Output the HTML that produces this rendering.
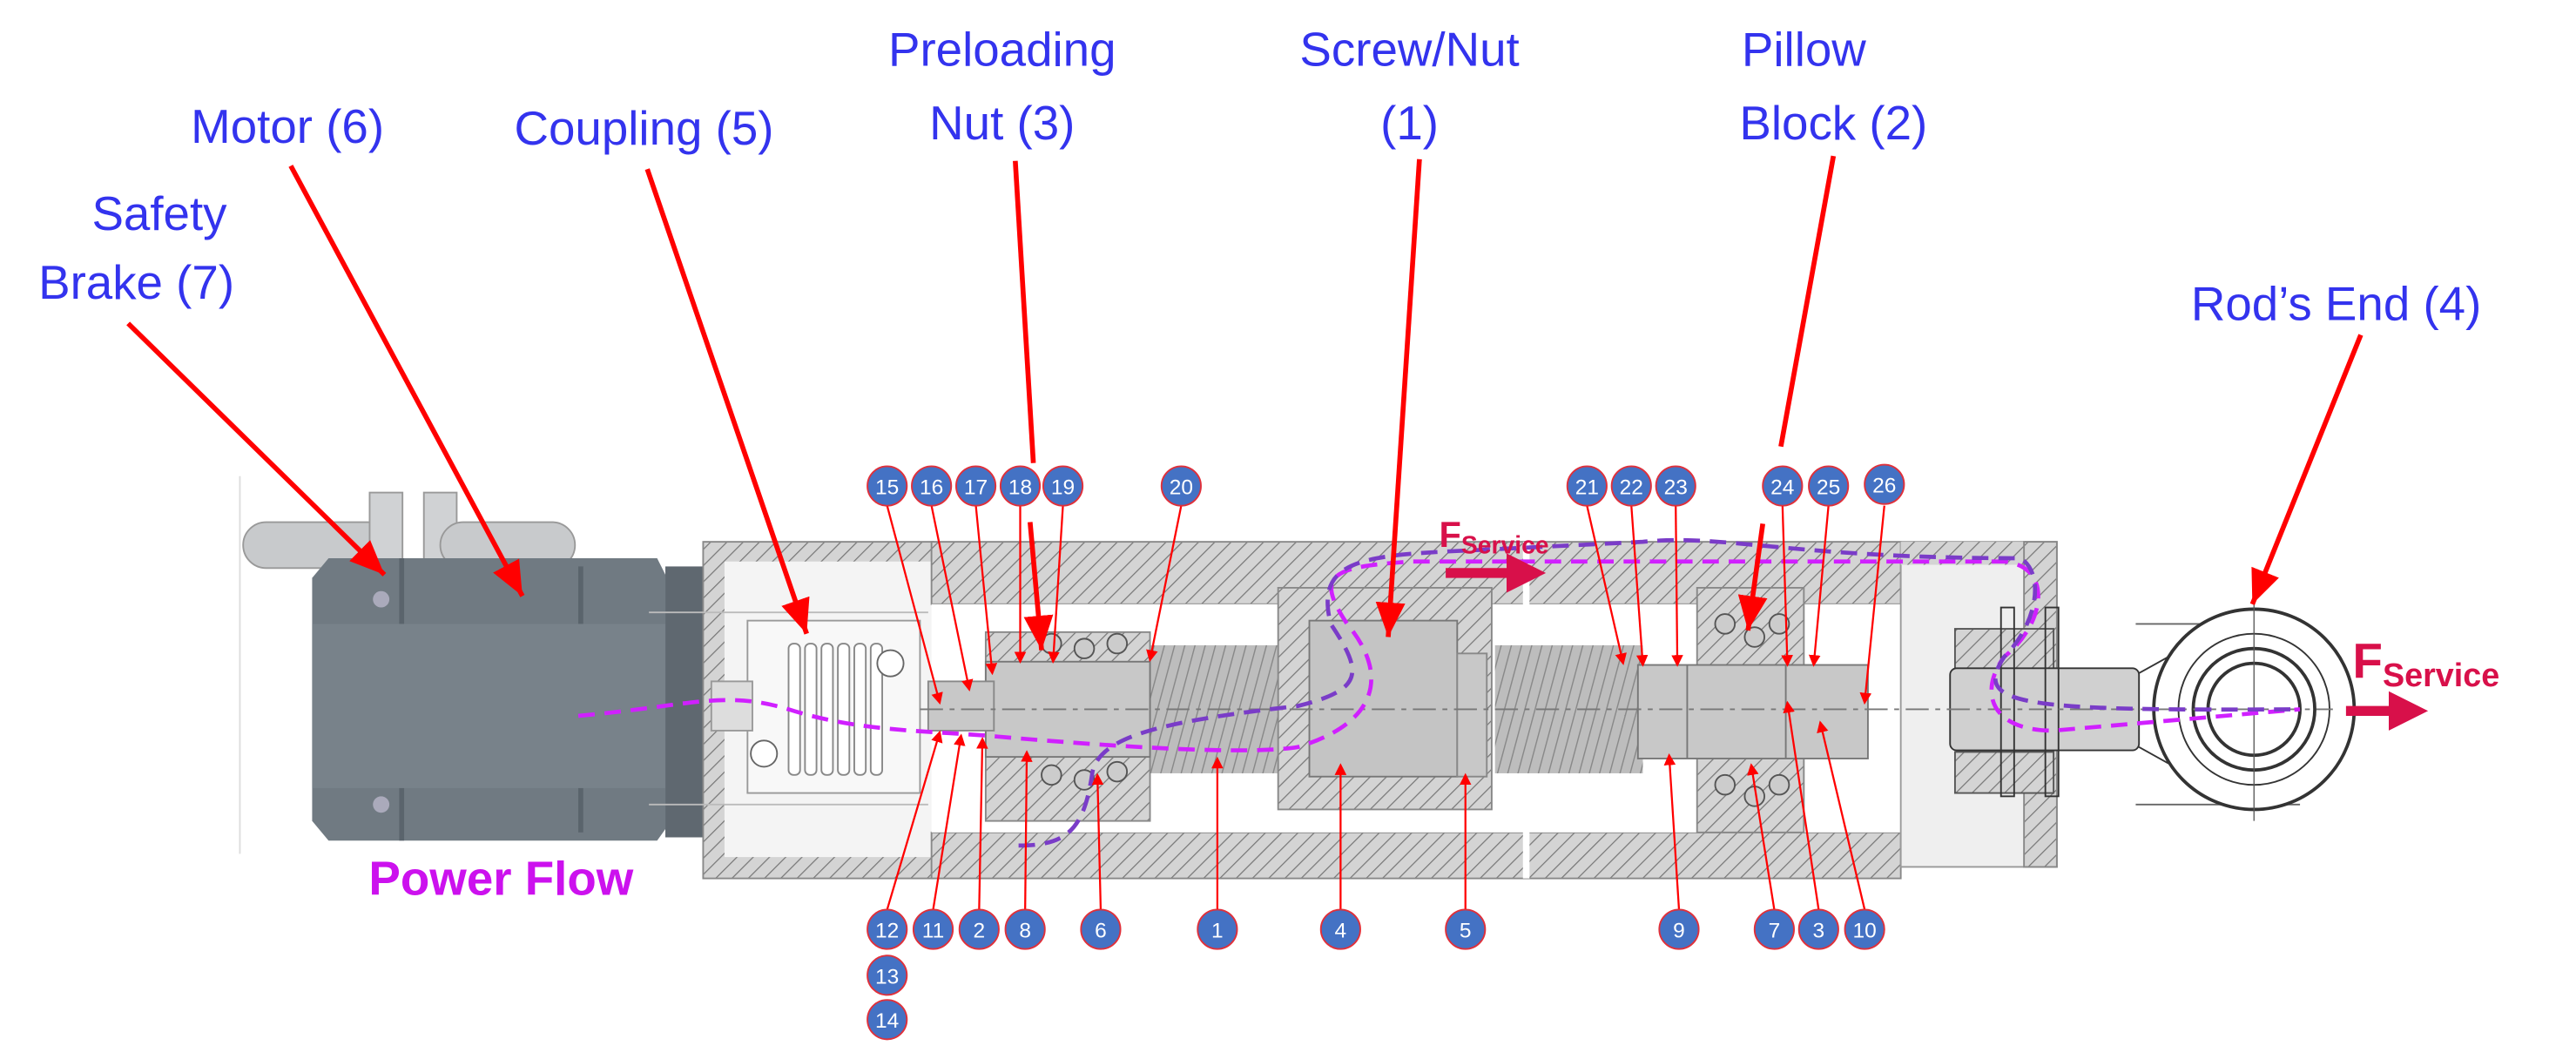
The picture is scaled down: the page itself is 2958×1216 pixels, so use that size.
<!DOCTYPE html>
<html><head><meta charset="utf-8"><style>
html,body{margin:0;padding:0;background:#fff;}
svg{display:block;}
.lbl{font-family:"Liberation Sans",sans-serif;font-size:29px;fill:#3333ee;}
.n{font-family:"Liberation Sans",sans-serif;font-size:13px;fill:#fff;text-anchor:middle;}
</style></head><body>
<svg width="2958" height="1216" viewBox="0 0 1568 645" preserveAspectRatio="none" xmlns="http://www.w3.org/2000/svg">
<defs>
<pattern id="h" width="7" height="7" patternUnits="userSpaceOnUse" patternTransform="rotate(45)">
<rect width="7" height="7" fill="#d4d4d4"/><line x1="0" y1="0" x2="0" y2="7" stroke="#777" stroke-width="1.3"/></pattern>
<pattern id="th" width="6" height="6" patternUnits="userSpaceOnUse" patternTransform="rotate(15)">
<rect width="6" height="6" fill="#bdbdbd"/><line x1="0" y1="0" x2="0" y2="6" stroke="#888" stroke-width="1.5"/></pattern>
<marker id="a" markerWidth="6" markerHeight="6" refX="5" refY="3" orient="auto" markerUnits="strokeWidth"><path d="M0,0 L6,3 L0,6 z" fill="#f00"/></marker>
<marker id="s" markerWidth="8" markerHeight="8" refX="7" refY="4" orient="auto" markerUnits="strokeWidth"><path d="M0,1 L7,4 L0,7 z" fill="#f00"/></marker>
<marker id="f" markerWidth="4" markerHeight="4" refX="3" refY="2" orient="auto" markerUnits="strokeWidth"><path d="M0,0 L4,2 L0,4 z" fill="#d8104a"/></marker>
</defs>

<!-- motor -->
<line x1="146" y1="290" x2="146" y2="520" stroke="#ddd"/>
<rect x="148" y="318" width="90" height="28" rx="14" fill="#c8cacc" stroke="#999"/>
<rect x="225" y="300" width="20" height="45" fill="#d0d2d4" stroke="#999"/>
<rect x="258" y="300" width="20" height="45" fill="#d0d2d4" stroke="#999"/>
<rect x="268" y="318" width="82" height="28" rx="14" fill="#c8cacc" stroke="#999"/>
<path d="M190,352 L200,340 L400,340 L405,350 L405,505 L400,512 L200,512 L190,500 Z" fill="#707a82"/>
<rect x="243" y="340" width="3" height="172" fill="#5a646c"/>
<rect x="352" y="345" width="3" height="162" fill="#5a646c"/>
<rect x="405" y="345" width="25" height="165" fill="#5f6870"/>
<rect x="190" y="380" width="215" height="100" fill="#78828a"/>
<circle cx="232" cy="365" r="5" fill="#aab"/><circle cx="232" cy="490" r="5" fill="#aab"/>

<!-- left cap -->
<rect x="428" y="330" width="140" height="205" fill="url(#h)" stroke="#888"/>
<rect x="441" y="342" width="127" height="180" fill="#f4f4f4"/>
<line x1="395" y1="373" x2="565" y2="373" stroke="#bbb"/><line x1="395" y1="490" x2="565" y2="490" stroke="#bbb"/>
<!-- coupling -->
<rect x="455" y="378" width="105" height="105" fill="#f8f8f8" stroke="#999"/>
<g stroke="#888" fill="#fff">
<rect x="480" y="392" width="7" height="80" rx="3"/><rect x="490" y="392" width="7" height="80" rx="3"/><rect x="500" y="392" width="7" height="80" rx="3"/><rect x="510" y="392" width="7" height="80" rx="3"/><rect x="520" y="392" width="7" height="80" rx="3"/><rect x="530" y="392" width="7" height="80" rx="3"/>
</g>
<circle cx="465" cy="459" r="8" fill="#fff" stroke="#666"/><circle cx="542" cy="404" r="8" fill="#fff" stroke="#666"/>
<rect x="433" y="415" width="25" height="30" fill="#ddd" stroke="#999"/>

<!-- main tube -->
<rect x="567" y="330" width="590" height="38" fill="url(#h)" stroke="#888"/>
<rect x="567" y="507" width="590" height="28" fill="url(#h)" stroke="#888"/>
<rect x="567" y="368" width="590" height="139" fill="#fff"/>
<rect x="927" y="330" width="4" height="205" fill="#fff"/>
<!-- screw -->
<rect x="700" y="393" width="95" height="78" fill="url(#th)"/>
<rect x="910" y="393" width="90" height="78" fill="url(#th)"/>
<!-- nut -->
<rect x="778" y="358" width="130" height="135" fill="url(#h)" stroke="#888"/>
<rect x="797" y="378" width="90" height="95" fill="#c4c4c4" stroke="#777"/>
<rect x="887" y="398" width="18" height="75" fill="#c8c8c8" stroke="#888"/>
<!-- left bearing -->
<rect x="600" y="385" width="100" height="115" fill="url(#h)" stroke="#888"/>
<rect x="600" y="403" width="100" height="58" fill="#c8c8c8" stroke="#777"/>
<circle cx="640" cy="392" r="6" fill="#ccc" stroke="#555"/><circle cx="660" cy="395" r="6" fill="#ccc" stroke="#555"/><circle cx="680" cy="392" r="6" fill="#ccc" stroke="#555"/>
<circle cx="640" cy="472" r="6" fill="#ccc" stroke="#555"/><circle cx="660" cy="475" r="6" fill="#ccc" stroke="#555"/><circle cx="680" cy="470" r="6" fill="#ccc" stroke="#555"/>
<rect x="565" y="415" width="40" height="30" fill="#c8c8c8" stroke="#888"/>
<!-- right bearing -->
<rect x="1033" y="358" width="65" height="149" fill="url(#h)" stroke="#888"/>
<rect x="997" y="405" width="140" height="57" fill="#c8c8c8" stroke="#777"/>
<circle cx="1050" cy="380" r="6" fill="#ccc" stroke="#555"/><circle cx="1068" cy="388" r="6" fill="#ccc" stroke="#555"/><circle cx="1083" cy="380" r="6" fill="#ccc" stroke="#555"/>
<circle cx="1050" cy="478" r="6" fill="#ccc" stroke="#555"/><circle cx="1068" cy="485" r="6" fill="#ccc" stroke="#555"/><circle cx="1083" cy="478" r="6" fill="#ccc" stroke="#555"/>
<line x1="1027" y1="405" x2="1027" y2="462" stroke="#777"/><line x1="1087" y1="405" x2="1087" y2="462" stroke="#777"/>
<!-- right cap -->
<rect x="1157" y="330" width="95" height="198" fill="#efefef" stroke="#999"/>
<rect x="1157" y="330" width="95" height="14" fill="url(#h)"/>
<rect x="1232" y="330" width="20" height="198" fill="url(#h)" stroke="#888"/>
<rect x="1190" y="383" width="60" height="25" fill="url(#h)" stroke="#555"/>
<rect x="1190" y="458" width="60" height="25" fill="url(#h)" stroke="#555"/>
<rect x="1187" y="407" width="115" height="50" rx="4" fill="#d0d0d0" stroke="#333"/>
<rect x="1218" y="370" width="8" height="115" fill="none" stroke="#333"/><rect x="1245" y="370" width="8" height="115" fill="none" stroke="#333"/>
<!-- rod end eye -->
<line x1="1300" y1="380" x2="1400" y2="380" stroke="#666"/><line x1="1300" y1="490" x2="1400" y2="490" stroke="#666"/>
<circle cx="1372" cy="432" r="61" fill="#fff" stroke="#333" stroke-width="2"/>
<circle cx="1372" cy="432" r="46" fill="none" stroke="#333"/><circle cx="1372" cy="432" r="37" fill="none" stroke="#333" stroke-width="2"/><circle cx="1372" cy="432" r="28" fill="none" stroke="#333" stroke-width="2"/>
<line x1="1372" y1="365" x2="1372" y2="500" stroke="#555" stroke-width="0.7"/>
<path d="M1302,410 L1320,400 M1302,455 L1320,465" stroke="#333" fill="none"/>
<!-- center line -->
<line x1="560" y1="432" x2="1420" y2="432" stroke="#777" stroke-dasharray="14,4,3,4"/>

<!-- power flow -->
<g fill="none" stroke-width="2.5" stroke-dasharray="10,6">
<path d="M352,436 C420,430 440,420 480,432 C520,445 560,445 600,448 C680,455 760,460 790,455 C840,440 845,410 820,380 C800,350 810,345 860,342 L1220,342 C1250,345 1245,380 1220,400 C1205,420 1210,445 1250,445 L1400,432" stroke="#d020ff"/>
<path d="M620,515 C650,515 660,505 665,470 C670,450 700,440 790,430 C830,420 830,410 810,380 C800,340 830,338 900,335 L1000,330 C1050,325 1090,340 1230,340 C1245,350 1240,380 1220,400 C1200,430 1230,433 1400,432" stroke="#7a3cc8"/>
</g>

<!-- F service arrows -->
<line x1="880" y1="349" x2="935" y2="349" stroke="#d8104a" stroke-width="6" marker-end="url(#f)"/>
<line x1="1428" y1="433" x2="1472" y2="433" stroke="#d8104a" stroke-width="6" marker-end="url(#f)"/>
<text x="876" y="333" font-family="Liberation Sans,sans-serif" font-weight="bold" font-size="22" fill="#d8104a">F<tspan font-size="15" dy="4">Service</tspan></text>
<text x="1432" y="413" font-family="Liberation Sans,sans-serif" font-weight="bold" font-size="30" fill="#d8104a">F<tspan font-size="20" dy="5">Service</tspan></text>

<!-- labels -->
<text class="lbl" x="97" y="140" text-anchor="middle">Safety</text>
<text class="lbl" x="83" y="182" text-anchor="middle">Brake (7)</text>
<text class="lbl" x="175" y="87" text-anchor="middle">Motor (6)</text>
<text class="lbl" x="392" y="88" text-anchor="middle">Coupling (5)</text>
<text class="lbl" x="610" y="40" text-anchor="middle">Preloading</text>
<text class="lbl" x="610" y="85" text-anchor="middle">Nut (3)</text>
<text class="lbl" x="858" y="40" text-anchor="middle">Screw/Nut</text>
<text class="lbl" x="858" y="85" text-anchor="middle">(1)</text>
<text class="lbl" x="1098" y="40" text-anchor="middle">Pillow</text>
<text class="lbl" x="1116" y="85" text-anchor="middle">Block (2)</text>
<text class="lbl" x="1422" y="195" text-anchor="middle">Rod’s End (4)</text>
<text x="305" y="545" text-anchor="middle" font-family="Liberation Sans,sans-serif" font-weight="bold" font-size="29" fill="#cc11ee">Power Flow</text>

<!-- big red arrows -->
<g stroke="#f00" stroke-width="3" fill="none">
<line x1="78" y1="197" x2="234" y2="350" marker-end="url(#s)"/>
<line x1="177" y1="101" x2="318" y2="363" marker-end="url(#s)"/>
<line x1="394" y1="103" x2="491" y2="386" marker-end="url(#s)"/>
<line x1="618" y1="98" x2="629" y2="282"/>
<line x1="627" y1="318" x2="634" y2="396" marker-end="url(#s)"/>
<line x1="864" y1="97" x2="845" y2="388" marker-end="url(#s)"/>
<line x1="1116" y1="95" x2="1084" y2="272"/>
<line x1="1073" y1="319" x2="1064" y2="384" marker-end="url(#s)"/>
<line x1="1437" y1="204" x2="1371" y2="368" marker-end="url(#s)"/>
</g>

<!-- thin leaders -->
<g stroke="#f00" stroke-width="1.2" fill="none" marker-end="url(#a)">
<line x1="540" y1="308" x2="572" y2="428"/>
<line x1="567" y1="308" x2="590" y2="420"/>
<line x1="594" y1="308" x2="604" y2="410"/>
<line x1="621" y1="308" x2="621" y2="403"/>
<line x1="647" y1="308" x2="641" y2="403"/>
<line x1="719" y1="308" x2="700" y2="402"/>
<line x1="540" y1="554" x2="572" y2="446"/>
<line x1="568" y1="554" x2="585" y2="448"/>
<line x1="596" y1="554" x2="598" y2="450"/>
<line x1="624" y1="554" x2="625" y2="458"/>
<line x1="670" y1="554" x2="668" y2="472"/>
<line x1="741" y1="554" x2="741" y2="462"/>
<line x1="816" y1="554" x2="816" y2="466"/>
<line x1="892" y1="554" x2="892" y2="472"/>
<line x1="966" y1="308" x2="988" y2="404"/>
<line x1="993" y1="308" x2="1000" y2="405"/>
<line x1="1020" y1="308" x2="1021" y2="405"/>
<line x1="1085" y1="308" x2="1088" y2="405"/>
<line x1="1113" y1="308" x2="1104" y2="405"/>
<line x1="1147" y1="308" x2="1135" y2="428"/>
<line x1="1022" y1="554" x2="1016" y2="460"/>
<line x1="1080" y1="554" x2="1066" y2="466"/>
<line x1="1107" y1="554" x2="1088" y2="428"/>
<line x1="1135" y1="554" x2="1108" y2="440"/>
</g>

<!-- number circles -->
<g stroke="#e0303a" stroke-width="1" fill="#4472c4">
<circle cx="540" cy="296" r="12"/><circle cx="567" cy="296" r="12"/><circle cx="594" cy="296" r="12"/><circle cx="621" cy="296" r="12"/><circle cx="647" cy="296" r="12"/><circle cx="719" cy="296" r="12"/>
<circle cx="966" cy="296" r="12"/><circle cx="993" cy="296" r="12"/><circle cx="1020" cy="296" r="12"/><circle cx="1085" cy="296" r="12"/><circle cx="1113" cy="296" r="12"/><circle cx="1147" cy="295" r="12"/>
<circle cx="540" cy="566" r="12"/><circle cx="568" cy="566" r="12"/><circle cx="596" cy="566" r="12"/><circle cx="624" cy="566" r="12"/><circle cx="670" cy="566" r="12"/><circle cx="741" cy="566" r="12"/><circle cx="816" cy="566" r="12"/><circle cx="892" cy="566" r="12"/><circle cx="1022" cy="566" r="12"/><circle cx="1080" cy="566" r="12"/><circle cx="1107" cy="566" r="12"/><circle cx="1135" cy="566" r="12"/>
<circle cx="540" cy="594" r="12"/><circle cx="540" cy="621" r="12"/>
</g>
<g class="n">
<text class="n" x="540" y="301">15</text><text class="n" x="567" y="301">16</text><text class="n" x="594" y="301">17</text><text class="n" x="621" y="301">18</text><text class="n" x="647" y="301">19</text><text class="n" x="719" y="301">20</text>
<text class="n" x="966" y="301">21</text><text class="n" x="993" y="301">22</text><text class="n" x="1020" y="301">23</text><text class="n" x="1085" y="301">24</text><text class="n" x="1113" y="301">25</text><text class="n" x="1147" y="300">26</text>
<text class="n" x="540" y="571">12</text><text class="n" x="568" y="571">11</text><text class="n" x="596" y="571">2</text><text class="n" x="624" y="571">8</text><text class="n" x="670" y="571">6</text><text class="n" x="741" y="571">1</text><text class="n" x="816" y="571">4</text><text class="n" x="892" y="571">5</text><text class="n" x="1022" y="571">9</text><text class="n" x="1080" y="571">7</text><text class="n" x="1107" y="571">3</text><text class="n" x="1135" y="571">10</text>
<text class="n" x="540" y="599">13</text><text class="n" x="540" y="626">14</text>
</g>
</svg>
</body></html>
